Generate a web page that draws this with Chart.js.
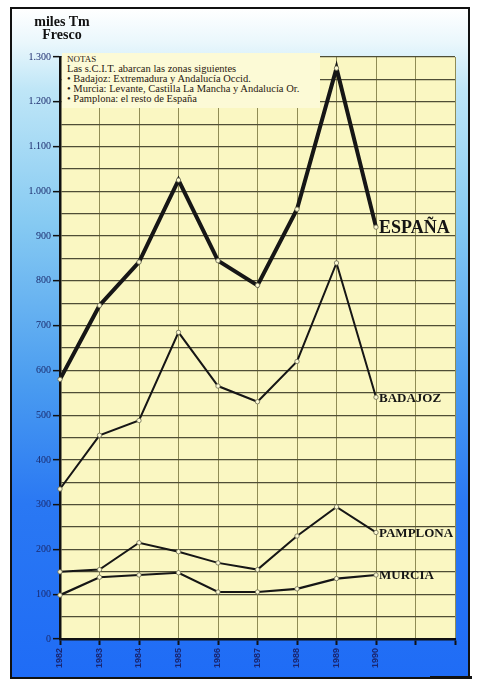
<!DOCTYPE html>
<html>
<head>
<meta charset="utf-8">
<script src="https://cdn.jsdelivr.net/npm/chart.js@4.4.1/dist/chart.umd.min.js"></script>
<style>
  html, body { margin: 0; padding: 0; background: #fff; }
  #page { position: relative; width: 479px; height: 686px; overflow: hidden; }
  #frame {
    position: absolute; left: 10px; top: 7px; width: 460px; height: 672px;
    border: 2px solid #111; box-sizing: border-box;
    background: linear-gradient(to bottom, #ffffff 0%, #eaf7fc 5%, #bfe6f7 12%, #86caf2 32%, #4a9cf0 56%, #2a78f3 74%, #1f6cf6 100%);
  }
  #wrap { position: absolute; left: 0; top: 0; width: 479px; height: 686px; }
  #title {
    position: absolute; left: 20px; top: 15px; width: 84px; text-align: center;
    font: bold 14px "Liberation Serif", "DejaVu Serif", serif; line-height: 13px; color: #111;
  }
  #notes {
    position: absolute; left: 62px; top: 53px; width: 258px; height: 55px;
    background: #fcfad6; box-sizing: border-box; padding: 1px 0 0 5px;
    font: 10.5px "Liberation Serif", "DejaVu Serif", serif; line-height: 10px; color: #2a2010;
    white-space: nowrap; overflow: hidden;
  }
  #dash { position: absolute; left: 430px; top: 676px; width: 42px; height: 3px; background: #111; }
</style>
</head>
<body>
<div id="page">
  <div id="frame"></div>
  <div id="wrap"><canvas id="c"></canvas></div>
  <div id="title">miles Tm<br>Fresco</div>
  <div id="notes"><span style="font-size:9px">NOTAS</span><br>Las s.C.I.T. abarcan las zonas siguientes<br>• Badajoz: Extremadura y Andalucía Occid.<br>• Murcia: Levante, Castilla La Mancha y Andalucía Or.<br>• Pamplona: el resto de España</div>
  <div id="dash"></div>
</div>
<script>
'use strict'
var years = ['1982', '1983', '1984', '1985', '1986', '1987', '1988', '1989', '1990'];
var extraSlots = ['', ''];
var espana   = [580, 745, 842, 1025, 845, 790, 960, 1275, 920];
var badajoz  = [335, 455, 488, 685, 565, 530, 620, 840, 540];
var pamplona = [150, 155, 215, 195, 170, 155, 230, 295, 238];
var murcia   = [98, 138, 143, 148, 105, 105, 112, 135, 143];
var seriesNames = ['ESPAÑA', 'BADAJOZ', 'PAMPLONA', 'MURCIA'];
var yMin = 0, yMax = 1300, yStep = 50, yLabelStep = 100;

function fmt(v) {
    return String(v).replace(/\B(?=(\d{3})+(?!\d))/g, '.');
}

var plotBg = {
    id: 'plotBg',
    beforeDraw: function (chart) {
        var a = chart.chartArea, ctx = chart.ctx;
        ctx.save();
        ctx.fillStyle = '#faf7c2';
        ctx.fillRect(a.left, a.top, a.right - a.left, a.bottom - a.top);
        ctx.restore();
    }
};

var endLabels = {
    id: 'endLabels',
    afterDatasetsDraw: function (chart) {
        var ctx = chart.ctx;
        ctx.save();
        chart.data.datasets.forEach(function (ds, i) {
            var pts = chart.getDatasetMeta(i).data;
            var p = pts[pts.length - 1];
            ctx.font = 'bold ' + ds.endSize + 'px "Liberation Serif", "DejaVu Serif", serif';
            ctx.fillStyle = '#151515';
            ctx.textBaseline = 'middle';
            ctx.textAlign = 'left';
            ctx.fillText(ds.label, p.x + 3, p.y + 1);
        });
        ctx.restore();
    }
};

function series(label, values, width, size) {
    return {
        label: label,
        data: values,
        borderColor: '#161616',
        borderWidth: width,
        pointRadius: 2.2,
        pointBackgroundColor: '#fbf8d2',
        pointBorderColor: '#6a6a50',
        pointBorderWidth: 0.8,
        tension: 0,
        endSize: size
    };
}

var chart = new Chart(document.getElementById('c'), {
    type: 'line',
    data: {
        labels: years.concat(extraSlots),
        datasets: [
            series(seriesNames[0], espana, 4, 18),
            series(seriesNames[1], badajoz, 2, 13),
            series(seriesNames[2], pamplona, 2, 13),
            series(seriesNames[3], murcia, 2.2, 13)
        ]
    },
    options: {
        responsive: true,
        maintainAspectRatio: false,
        animation: false,
        layout: { padding: { left: 0, top: 57, right: 24, bottom: 0 } },
        plugins: { legend: { display: false }, tooltip: { enabled: false } },
        scales: {
            x: {
                offset: false,
                afterFit: function (s) { s.height = 47; },
                grid: { color: '#8f8c55', lineWidth: 1, tickColor: '#111', tickLength: 6, tickWidth: 2 },
                border: { color: '#111', width: 2.5 },
                ticks: {
                    autoSkip: false, minRotation: 90, maxRotation: 90, padding: 3,
                    color: '#1a2670',
                    font: { family: '"Liberation Sans", Arial, sans-serif', size: 9, weight: 'bold' }
                }
            },
            y: {
                min: yMin, max: yMax,
                afterFit: function (s) { s.width = 60; },
                grid: {
                    color: '#4f4e36',
                    lineWidth: 1.3,
                    tickLength: 7,
                    tickWidth: 1.5,
                    tickColor: function (c) { return c.tick && c.tick.value % yLabelStep === 0 ? '#111' : 'rgba(0,0,0,0)'; }
                },
                border: { color: '#111', width: 2.5 },
                ticks: {
                    stepSize: yStep, padding: 2, color: '#1b2a6c',
                    font: { family: '"Liberation Serif", serif', size: 10 },
                    callback: function (v) { return v % yLabelStep === 0 ? fmt(v) : ''; }
                }
            }
        }
    },
    plugins: [plotBg, endLabels]
});
</script>
</body>
</html>
